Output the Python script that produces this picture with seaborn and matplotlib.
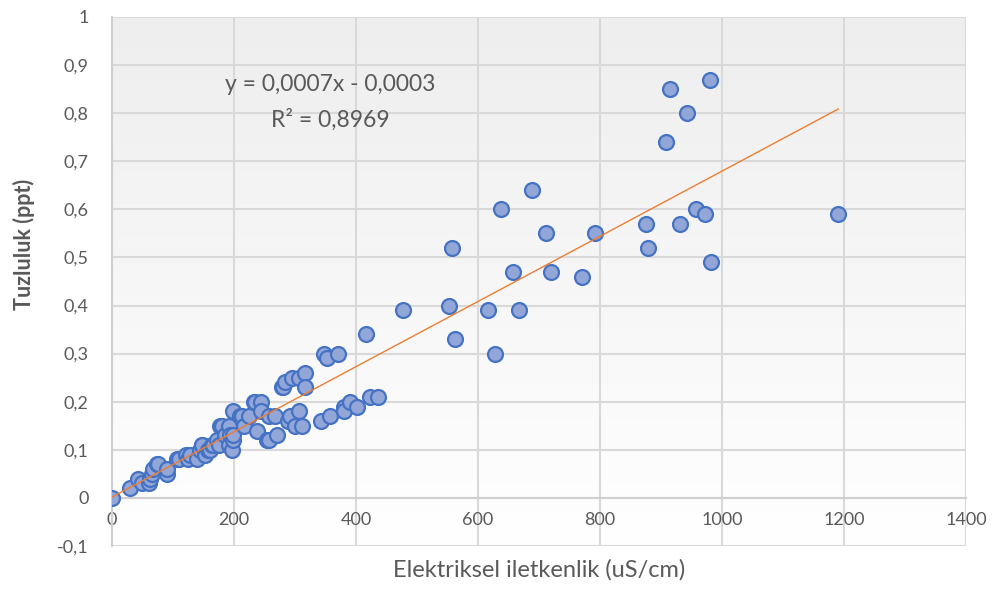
import numpy as np
import pandas as pd
import matplotlib
matplotlib.use("Agg")
import matplotlib.pyplot as plt
import seaborn as sns

# Electrical conductivity (uS/cm) and salinity (ppt) of the samples
conductivity = [
    0, 30, 43, 49, 60, 62, 65, 68, 73, 75, 90, 90, 106, 109, 122, 125, 128,
    139, 145, 147, 147, 153, 158, 161, 164, 166, 172, 175, 177, 180, 186, 191,
    191, 194, 197, 199, 199, 199, 210, 213, 216, 224, 232, 235, 238, 245, 245,
    254, 257, 257, 268, 270, 279, 281, 284, 289, 292, 295, 300, 306, 306, 311,
    317, 317, 342, 348, 352, 358, 370, 380, 380, 390, 402, 416, 423, 436, 477,
    553, 558, 562, 616, 628, 638, 658, 667, 688, 712, 720, 771, 792, 876, 878,
    909, 915, 931, 943, 957, 973, 980, 982, 1191,
]
salinity = [
    0.00, 0.02, 0.04, 0.03, 0.03, 0.04, 0.05, 0.06, 0.07, 0.07, 0.05, 0.06,
    0.08, 0.08, 0.09, 0.08, 0.09, 0.08, 0.10, 0.11, 0.11, 0.09, 0.10, 0.10,
    0.11, 0.11, 0.12, 0.11, 0.15, 0.15, 0.13, 0.15, 0.11, 0.13, 0.10, 0.18,
    0.12, 0.13, 0.17, 0.17, 0.15, 0.17, 0.20, 0.20, 0.14, 0.20, 0.18, 0.12,
    0.17, 0.12, 0.17, 0.13, 0.23, 0.23, 0.24, 0.16, 0.17, 0.25, 0.15, 0.25,
    0.18, 0.15, 0.26, 0.23, 0.16, 0.30, 0.29, 0.17, 0.30, 0.19, 0.18, 0.20,
    0.19, 0.34, 0.21, 0.21, 0.39, 0.40, 0.52, 0.33, 0.39, 0.30, 0.60, 0.47,
    0.39, 0.64, 0.55, 0.47, 0.46, 0.55, 0.57, 0.52, 0.74, 0.85, 0.57, 0.80,
    0.60, 0.59, 0.87, 0.49, 0.59,
]

x_ticks = [0, 200, 400, 600, 800, 1000, 1200, 1400]
y_ticks = [-0.1, 0, 0.1, 0.2, 0.3, 0.4, 0.5, 0.6, 0.7, 0.8, 0.9, 1.0]
y_tick_labels = ["-0,1", "0", "0,1", "0,2", "0,3", "0,4", "0,5", "0,6",
                 "0,7", "0,8", "0,9", "1"]
equation_text = "y = 0,0007x - 0,0003"
r2_text = "R² = 0,8969"
x_title = "Elektriksel iletkenlik (uS/cm)"
y_title = "Tuzluluk (ppt)"

df = pd.DataFrame({"ec": conductivity, "sal": salinity})

sns.set_theme(style="white")
plt.rcParams["font.family"] = ["Lato", "DejaVu Sans"]

text_color = "#595959"
grid_color = "#d9d9d9"

fig = plt.figure(figsize=(10.02, 5.90), dpi=100)
ax = fig.add_axes([0.1118, 0.0746, 0.8522, 0.8966])

# soft vertical gradient behind the plot area
grad = np.linspace(0, 1, 256).reshape(-1, 1)
cmap = matplotlib.colors.LinearSegmentedColormap.from_list(
    "bg", ["#ffffff", "#eeeeee"])
ax.imshow(grad, extent=[0, 1, 1, 0], transform=ax.transAxes, cmap=cmap,
          aspect="auto", zorder=0)

sns.regplot(
    data=df, x="ec", y="sal", ax=ax, ci=None, truncate=True,
    scatter_kws=dict(s=115, facecolor="#93a6d8", edgecolor="#4472c4",
                     linewidths=1.6, alpha=1, zorder=3),
    line_kws=dict(color="#ed7d31", linewidth=1.0, zorder=4),
)

ax.set_xlim(0, 1400)
ax.set_ylim(-0.1, 1.0)
ax.set_xticks(x_ticks)
ax.set_xticklabels([str(v) for v in x_ticks])
ax.set_yticks(y_ticks)
ax.set_yticklabels(y_tick_labels)

ax.grid(True, color=grid_color, linewidth=1.5, zorder=1)
ax.set_axisbelow(True)

for side in ["top", "right"]:
    ax.spines[side].set_visible(False)
ax.spines["left"].set_color("#cfcfcf")
ax.spines["left"].set_linewidth(1.5)
ax.spines["bottom"].set_position(("data", 0))
ax.spines["bottom"].set_color("#cfcfcf")
ax.spines["bottom"].set_linewidth(1.5)

ax.tick_params(axis="x", length=0, pad=10, labelsize=13, labelcolor=text_color)
ax.tick_params(axis="y", length=0, pad=17, labelsize=13, labelcolor=text_color)

ax.set_xlabel(x_title, fontsize=17, color=text_color)
ax.xaxis.set_label_coords(0.5, -0.024)
ax.set_ylabel(y_title, fontsize=15.5, color=text_color, fontweight="bold")
ax.yaxis.set_label_coords(-0.09, 0.57)

ax.text(358, 0.859, equation_text, ha="center", va="center",
        fontsize=16.5, color=text_color, zorder=5)
ax.text(358, 0.786, r2_text, ha="center", va="center",
        fontsize=16.5, color=text_color, zorder=5)

fig.savefig("out.png", dpi=100, facecolor="white")
